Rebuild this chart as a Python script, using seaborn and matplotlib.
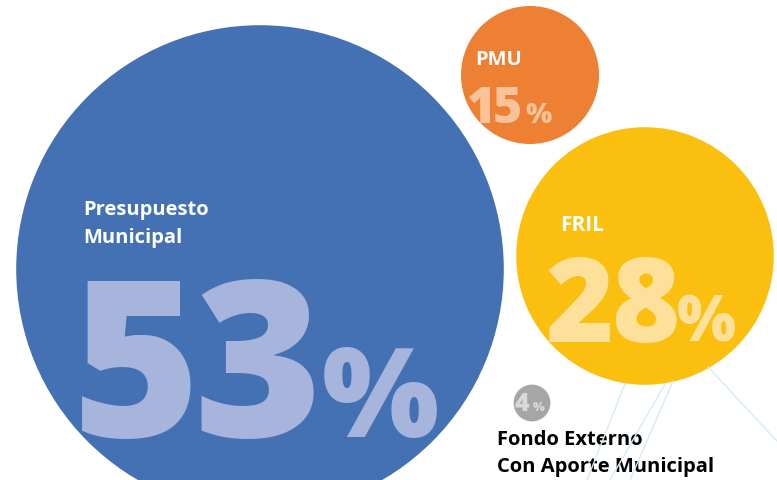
import numpy as np
import pandas as pd
import seaborn as sns
import matplotlib.pyplot as plt

# data
fuentes = ['Presupuesto Municipal', 'PMU', 'FRIL', 'Fondo Externo Con Aporte Municipal']
porcentajes = [53, 15, 28, 4]
colores = ['#4471b4', '#ee8033', '#fbbf10', '#a6a6a6']
colores_texto = ['#a7b4dc', '#f9c39a', '#fde09a', '#d9d9d9']

# bubble layout (pixel space, y down)
centro_x = [260, 530, 645, 532]
centro_y = [270, 76, 257, 404]
px_por_punto = 4.6  # radius in px per percentage point

# decorative light lines under FRIL
lineas = [((625, 385), (587, 481)),
          ((665, 385), (610, 481)),
          ((673, 382), (630, 481)),
          ((708, 368), (777, 442))]

W, H, DPI = 777, 481, 100

df = pd.DataFrame({'fuente': fuentes, 'pct': porcentajes,
                   'x': centro_x, 'y': centro_y})

sns.set_theme(style='white')
plt.rcParams['font.family'] = ['Open Sans', 'DejaVu Sans']

fig = plt.figure(figsize=(W / DPI, H / DPI), dpi=DPI)
ax = fig.add_axes([0, 0, 1, 1])

# marker area (pt^2) so that radius grows linearly with the percentage
tamanos = {f: (2 * px_por_punto * p * 72 / DPI) ** 2 for f, p in zip(fuentes, porcentajes)}
sns.scatterplot(data=df, x='x', y='y', hue='fuente', size='fuente',
                palette=dict(zip(fuentes, colores)), sizes=tamanos,
                linewidth=0, legend=False, ax=ax, zorder=1)

for (x0, y0), (x1, y1) in lineas:
    ax.plot([x0, x1], [y0, y1], color='#d6eaf8', lw=1, zorder=5)

ax.set_xlim(0, W)
ax.set_ylim(H, 0)
ax.axis('off')

bold = dict(fontweight='bold', va='baseline', ha='left')
heavy = dict(fontweight='heavy', va='baseline', ha='left')


def porcentaje(valor, x, y, paso, size, x_pct, size_pct, color):
    # digits set tightly, one by one, then a smaller percent sign
    for i, ch in enumerate(str(valor)):
        ax.text(x + i * paso, y, ch, color=color, fontsize=size, **heavy)
    ax.text(x_pct, y, '%', color=color, fontsize=size_pct, **heavy)


# Presupuesto Municipal
ax.text(83, 215, 'Presupuesto', color='white', fontsize=14.5, **bold)
ax.text(83, 243, 'Municipal', color='white', fontsize=14.5, **bold)
porcentaje(porcentajes[0], 72, 437, 121, 158, 322, 89, colores_texto[0])

# PMU
ax.text(475, 65, 'PMU', color='white', fontsize=14.5, **bold)
porcentaje(porcentajes[1], 467, 123, 26, 36, 525, 20, colores_texto[1])

# FRIL
ax.text(560, 231, 'FRIL', color='white', fontsize=15, **bold)
porcentaje(porcentajes[2], 545, 342, 66, 84, 677, 45, colores_texto[2])

# Fondo externo
porcentaje(porcentajes[3], 515, 411, 0, 18, 533, 9, colores_texto[3])
ax.text(497, 445, 'Fondo Externo', color='black', fontsize=14.5, zorder=4, **bold)
ax.text(497, 472, 'Con Aporte Municipal', color='black', fontsize=14.5, zorder=4, **bold)

fig.savefig('out.png', dpi=DPI)
